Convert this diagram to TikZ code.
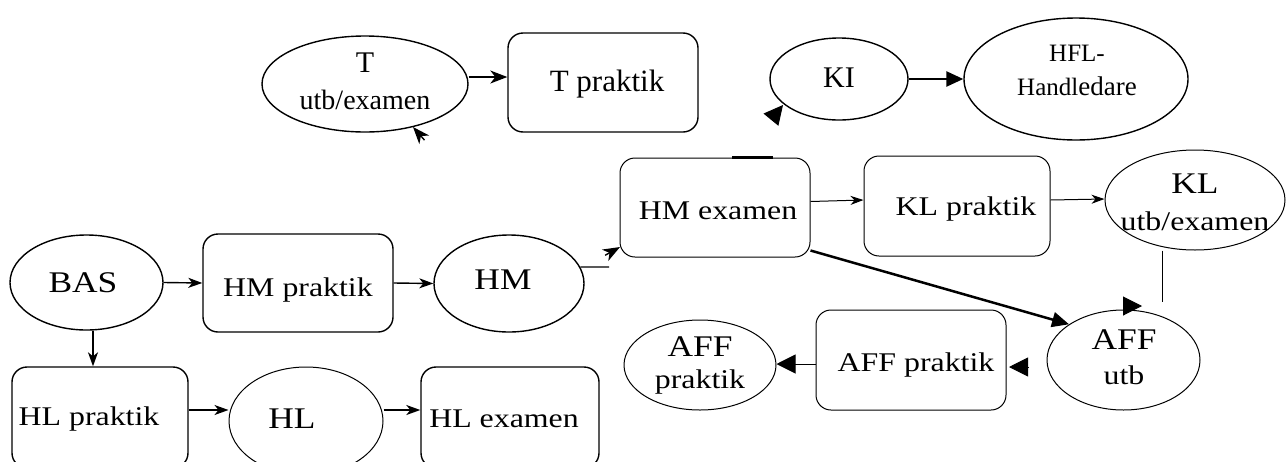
\documentclass[tikz,border=0pt]{standalone}
\usepackage{fontspec}
\usepackage{graphicx}
\setmainfont{Liberation Serif}
\usetikzlibrary{shapes.geometric,arrows.meta}
\newcommand{\sx}[1]{\scalebox{1.18}[1]{#1}}
\tikzset{
  ell/.style={draw, ellipse, inner sep=0pt, line width=1.4pt},
  ellthin/.style={draw, ellipse, inner sep=0pt, line width=1pt},
  rbox/.style={draw, rectangle, rounded corners=15pt, inner sep=0pt, line width=1.4pt},
  rboxthin/.style={draw, rectangle, rounded corners=15pt, inner sep=0pt, line width=1pt},
  txt/.style={inner sep=0pt},
  fa/.style={font=\fontsize{30pt}{30pt}\selectfont},
  fb/.style={font=\fontsize{31pt}{31pt}\selectfont},
  fc/.style={font=\fontsize{28pt}{28pt}\selectfont},
  fd/.style={font=\fontsize{25pt}{25pt}\selectfont},
  fs/.style={font=\fontsize{27pt}{27pt}\selectfont},
  arr/.style={-{Stealth[length=14pt,width=10pt,inset=4pt]}, line width=1.4pt},
  arrbig/.style={-{Stealth[length=17pt,width=13pt,inset=5pt]}, line width=1.4pt},
  arrthin/.style={-{Stealth[length=13pt,width=9pt,inset=4pt]}, line width=1pt},
  tarr/.style={-{Triangle[length=17pt,width=15pt]}, line width=2.5pt},
  headtri/.style={-{Triangle[length=19pt,width=19pt]}, line width=1pt},
}
\begin{document}
\begin{tikzpicture}[x=1pt,y=-1pt]
\useasboundingbox (0,0) rectangle (1287,461);
\clip (0,0) rectangle (1287,461);

% top row
\node[ell, minimum width=206pt, minimum height=96pt] (tue) at (365,84) {};
\node[txt, fa] (tueA) at (365,63) {T};
\node[txt, fc] (tueB) at (365,100) {utb/examen};
\node[rbox, minimum width=190pt, minimum height=99pt] (tpr) at (603,82.5) {};
\node[txt, fb] (tprA) at (607,84) {T praktik};

\node[ell, minimum width=138pt, minimum height=82pt] (ki) at (839,79) {};
\node[txt, fa] (kiA) at (839,78) {KI};
\node[ell, minimum width=224pt, minimum height=122pt] (hfl) at (1076,79) {};
\node[txt, fd] (hflA) at (1077,53) {HFL-};
\node[txt, fd] (hflB) at (1077,86) {Handl{\fontsize{27pt}{27pt}\selectfont edare}};

% middle row
\node[rboxthin, minimum width=190pt, minimum height=99pt] (hmex) at (715,207.5) {};
\node[txt, fs] (hmexA) at (718,211) {\sx{HM examen}};
\node[rboxthin, minimum width=186pt, minimum height=100pt] (klpr) at (957,206) {};
\node[txt, fs] (klprA) at (966,209) {\sx{KL praktik}};
\node[ellthin, minimum width=180pt, minimum height=100pt] (klue) at (1195,200) {};
\node[txt, fa] (klueA) at (1195,184) {\sx{KL}};
\node[txt, fs] (klueB) at (1195,221) {\sx{utb/examen}};

\node[ell, minimum width=153pt, minimum height=95pt] (bas) at (86.5,282.5) {};
\node[txt, fa] (basA) at (83,283) {\sx{BAS}};
\node[rbox, minimum width=190pt, minimum height=98pt] (hmpr) at (298,283) {};
\node[txt, fs] (hmprA) at (298,290) {\sx{HM praktik}};
\node[ell, minimum width=150pt, minimum height=97pt] (hm) at (509,283.5) {};
\node[txt, fa] (hmA) at (503,280) {\sx{HM}};

% AFF row
\node[ellthin, minimum width=152pt, minimum height=90pt] (affp) at (700,365) {};
\node[txt, fa] (affpA) at (700,347) {\sx{AFF}};
\node[txt, fs] (affpB) at (700,382) {\sx{praktik}};
\node[rboxthin, minimum width=190pt, minimum height=100pt] (affpr) at (911,360) {};
\node[txt, fs] (affprA) at (916,365) {\sx{AFF praktik}};
\node[ellthin, minimum width=153pt, minimum height=100pt] (affu) at (1123.5,360) {};
\node[txt, fa] (affuA) at (1124,340) {\sx{AFF}};
\node[txt, fs] (affuB) at (1124,375) {\sx{utb}};

% bottom row
\node[rbox, minimum width=176pt, minimum height=101pt] (hlpr) at (100,417.5) {};
\node[txt, fs] (hlprA) at (89,419) {\sx{HL praktik}};
\node[ellthin, minimum width=154pt, minimum height=108pt] (hl) at (306,421) {};
\node[txt, fa] (hlA) at (292,419) {\sx{HL}};
\node[rbox, minimum width=178pt, minimum height=101pt] (hlex) at (510,417.5) {};
\node[txt, fs] (hlexA) at (504,419) {\sx{HL examen}};

% free ends
\coordinate (tueTip) at (413,127);
\coordinate (tueTail) at (424.5,140.1);
\coordinate (kiTip) at (783,105);
\coordinate (kiTail) at (771.5,119);
\coordinate (hmj) at (609,267);
\coordinate (hmexTip) at (620,247);
\coordinate (hmexTail) at (605.1,255.3);
\coordinate (kld) at (1162,302);
\coordinate (affuHeadA) at (1123,306);
\coordinate (affuHeadB) at (1142,306);
\coordinate (affprHeadA) at (1029,367);
\coordinate (affprHeadB) at (1009,367);

% connectors
\draw[arrbig] ([yshift=7pt]tue.east) -- ([yshift=5.5pt]tpr.west);
\draw[arrbig] (tueTail) -- (tueTip);
\draw[tarr] (ki) -- (hfl);
\draw[headtri] (kiTail) -- (kiTip);

\draw[line width=1.4pt] (hm.13) -- (hmj);
\draw[arrbig] (hmexTail) -- (hmexTip);
\draw[line width=3pt] ([xshift=17pt]hmex.north) -- ([xshift=58pt]hmex.north);

\draw[arrthin] ([yshift=6pt]hmex.east) -- ([yshift=6pt]klpr.west);
\draw[arrthin] ([yshift=6pt]klpr.east) -- ([yshift=1pt]klue.west);
\draw[line width=1pt] (klue.south -| kld) -- (kld);
\draw[headtri] (affuHeadA) -- (affuHeadB);

\draw[tarr] ([yshift=7pt]hmex.south east) -- (affu.north west);
\draw[headtri] (affprHeadA) -- (affprHeadB);
\draw[headtri] ([yshift=-4pt]affpr.west) -- ([yshift=1pt]affp.east);

\draw[arr] (bas.east) -- (hmpr.west);
\draw[arr] (hmpr.east) -- (hm.west);
\draw[arr] ([xshift=6.5pt]bas.south) -- ([xshift=-7pt]hlpr.north);
\draw[arr] ([yshift=7.5pt]hlpr.east) -- ([yshift=11pt]hl.west);
\draw[arr] ([yshift=11pt]hl.east) -- ([yshift=7.5pt]hlex.west);
\end{tikzpicture}
\end{document}
